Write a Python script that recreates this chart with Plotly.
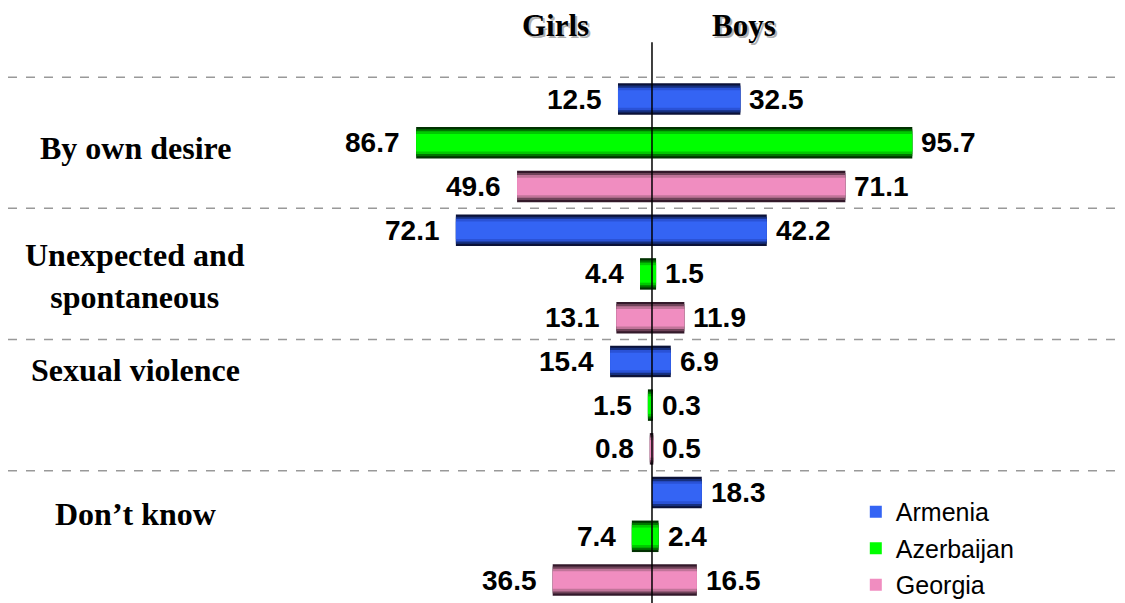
import plotly.graph_objects as go

# dados
motivos = ["By own desire", "Unexpected and<br>spontaneous", "Sexual violence", "Don’t know"]
paises = ["Armenia", "Azerbaijan", "Georgia"]

meninas = {  # Girls
    "Armenia":    [12.5, 72.1, 15.4, 0.0],
    "Azerbaijan": [86.7, 4.4, 1.5, 7.4],
    "Georgia":    [49.6, 13.1, 0.8, 36.5],
}
meninos = {  # Boys
    "Armenia":    [32.5, 42.2, 6.9, 18.3],
    "Azerbaijan": [95.7, 1.5, 0.3, 2.4],
    "Georgia":    [71.1, 11.9, 0.5, 16.5],
}

# cores em camadas (borda escura -> centro claro) para imitar o degrade
cores = {
    "Armenia":    ["#0b1238", "#16307f", "#2a52d6", "#3464f4"],
    "Azerbaijan": ["#013201", "#007400", "#00c800", "#00ff00"],
    "Georgia":    ["#33192a", "#6f4359", "#c07499", "#f08dc0"],
}
larguras = [0.72, 0.62, 0.52, 0.40]

fonte_num = dict(family="Liberation Sans, Arial", size=28, color="black")
fonte_tit = dict(family="Liberation Serif, Times New Roman", size=32, color="black")

fig = go.Figure()

anotacoes = []
for c, pais in enumerate(paises):
    pos = [3 * g + c for g in range(len(motivos))]
    for k, (cor, w) in enumerate(zip(cores[pais], larguras)):
        for lado, valores in (("g", meninas[pais]), ("b", meninos[pais])):
            xs = [-v for v in valores] if lado == "g" else valores
            fig.add_trace(go.Bar(
                y=pos, x=xs, orientation="h", width=w,
                marker=dict(color=cor, line_width=0),
                name=pais, legendgroup=pais,
                showlegend=(k == len(larguras) - 1 and lado == "g"),
                hoverinfo="skip",
            ))
    # rotulos dos valores
    for g in range(len(motivos)):
        vg = meninas[pais][g]
        vb = meninos[pais][g]
        if vg > 0:
            anotacoes.append(dict(x=-vg, y=3 * g + c, text="<b>%.1f</b>" % vg, xanchor="right",
                                  xshift=-14, showarrow=False, font=fonte_num))
        anotacoes.append(dict(x=vb, y=3 * g + c, text="<b>%.1f</b>" % vb, xanchor="left",
                              xshift=7, showarrow=False, font=fonte_num))

# titulos das categorias (posicao em y de cada rotulo)
y_rotulos = [1.12, 4.05, 6.2, 9.49]
for m, yr in zip(motivos, y_rotulos):
    anotacoes.append(dict(x=0.1137, xref="paper", y=yr, text="<b>%s</b>" % m, showarrow=False,
                          xanchor="center", font=fonte_tit))

# Girls / Boys com sombra
for txt, xx in (("Girls", -35.3), ("Boys", 33.8)):
    anotacoes.append(dict(x=xx, y=-1.67, text="<b>%s</b>" % txt, showarrow=False, xshift=2, yshift=-2,
                          font=dict(family=fonte_tit["family"], size=31, color="#b0b0b0")))
    anotacoes.append(dict(x=xx, y=-1.67, text="<b>%s</b>" % txt, showarrow=False,
                          font=dict(family=fonte_tit["family"], size=31, color="black")))

# linhas tracejadas entre grupos
formas = []
for g in range(len(motivos)):
    formas.append(dict(type="line", xref="paper", x0=0, x1=1, y0=3 * g - 0.5, y1=3 * g - 0.5,
                       line=dict(color="#999999", width=1.5, dash="dash"), layer="below"))
# linha central
formas.append(dict(type="line", x0=0, x1=0, y0=-1.3, y1=11.6, line=dict(color="black", width=1.5), layer="above"))

fig.update_layout(
    width=1117, height=595,
    margin=dict(l=0, r=0, t=0, b=0, autoexpand=False),
    barmode="overlay",
    plot_bgcolor="white", paper_bgcolor="white",
    xaxis=dict(range=[-236.76, 173.9], visible=False, fixedrange=True),
    yaxis=dict(range=[11.525, -2.081], visible=False, fixedrange=True),
    annotations=anotacoes,
    shapes=formas,
    legend=dict(x=0.759, y=0.1916, xanchor="left", yanchor="top",
                font=dict(family="Liberation Sans, Arial", size=25, color="black"),
                bgcolor="rgba(0,0,0,0)", tracegroupgap=1),
    showlegend=True,
)

fig.write_html("out.html")
